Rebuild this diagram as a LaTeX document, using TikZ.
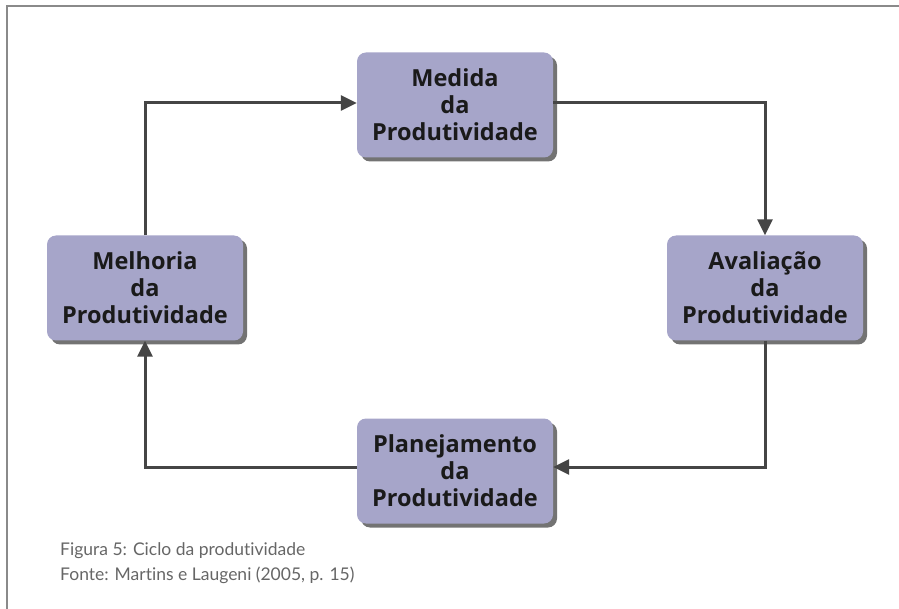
\documentclass[tikz,border=0pt]{standalone}
\usepackage{fontspec}
\setmainfont{Open Sans}
\newfontfamily\capfont[Ligatures={NoCommon}]{Lato}
\newfontfamily\boxfont[Ligatures={NoCommon}]{Open Sans}
\usetikzlibrary{shadows,arrows.meta}
\definecolor{boxfill}{HTML}{A6A5C9}
\definecolor{linecol}{HTML}{454545}
\definecolor{framecol}{HTML}{8A8A8A}
\definecolor{captcol}{HTML}{666666}
\definecolor{txtcol}{HTML}{1A1A1A}
\begin{document}
\begin{tikzpicture}[x=1pt,y=-1pt,
  stagebox/.style={rectangle, rounded corners=9pt, fill=boxfill,
    minimum width=196pt, minimum height=105pt, inner sep=0pt,
    align=center, text=txtcol,
    font=\boxfont\fontsize{23.5}{27}\selectfont\bfseries,
    drop shadow={shadow xshift=4pt, shadow yshift=-4pt, fill=black, opacity=0.55}},
  flow/.style={draw=linecol, line width=3pt,
    -{Triangle[length=16pt,width=15pt]}},
  capt/.style={anchor=base west, inner sep=0pt, text=captcol,
    font=\capfont\fontsize{17.5}{20}\selectfont}]
\useasboundingbox (0,0) rectangle (899,609);
\draw[framecol, line width=2.5pt] (7,609) -- (7,6.25) -- (899,6.25);
\node[stagebox] (med) at (455,105) {Medida\\da\\Produtividade};
\node[stagebox] (ava) at (765,288) {Avaliação\\da\\Produtividade};
\node[stagebox] (mel) at (145,288) {Melhoria\\da\\Produtividade};
\node[stagebox] (pla) at (455,471) {Planejamento\\da\\Produtividade};
\coordinate (c1) at (145,103);
\coordinate (c2) at (765,103);
\coordinate (c3) at (765,467);
\coordinate (c4) at (145,467);
\draw[flow] (mel.north) -- (c1) -- (med.west |- c1);
\draw[flow] (med.east |- c2) -- (c2) -- (ava.north);
\draw[flow] (ava.south) -- (c3) -- (pla.east |- c3);
\draw[flow] (pla.west |- c4) -- (c4) -- (mel.south);
\node[capt] (cap1) at (60,555) {Figura 5: Ciclo da produtividade};
\node[capt] (cap2) at (60,580) {Fonte: Martins e Laugeni (2005, p. 15)};
\end{tikzpicture}
\end{document}
